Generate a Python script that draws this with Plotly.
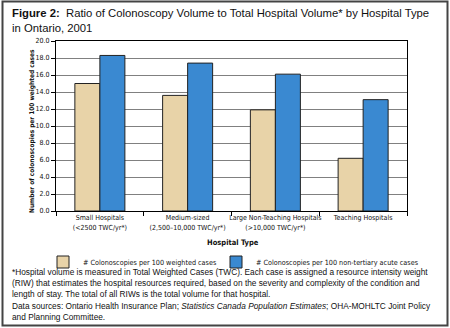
import plotly.graph_objects as go

# Hospital groups and colonoscopy ratios, 2001
hospital_types = [
    "Small Hospitals<br>(<2500 TWC/yr*)",
    "Medium-sized<br>(2,500–10,000 TWC/yr*)",
    "Large Non-Teaching Hospitals<br>(>10,000 TWC/yr*)",
    "Teaching Hospitals",
]
per_100_weighted = [15.0, 13.6, 11.9, 6.2]
per_100_non_tertiary = [18.3, 17.4, 16.1, 13.1]

y_ticks = [0, 2, 4, 6, 8, 10, 12, 14, 16, 18, 20]
y_tick_labels = ["%.1f" % v for v in y_ticks]

W, H = 450, 328
L, R, T, B = 56, 43, 41, 117
PW, PH = W - L - R, H - T - B


def px(x):
    return (x - L) / PW


def py(y):
    return (H - B - y) / PH


COND = "DejaVu Sans Condensed, DejaVu Sans, sans-serif"
BODY = "Liberation Sans, Arial, sans-serif"

fig = go.Figure()
fig.add_trace(go.Bar(
    x=hospital_types, y=per_100_weighted,
    name="# Colonoscopies per 100 weighted cases", legend="legend",
    marker=dict(color="#e8d3a8", line=dict(color="#222222", width=1)),
))
fig.add_trace(go.Bar(
    x=hospital_types, y=per_100_non_tertiary,
    name="# Colonoscopies per 100 non-tertiary acute cases", legend="legend2",
    marker=dict(color="#3a89d1", line=dict(color="#222222", width=1)),
))

legend_style = dict(
    yanchor="middle", xanchor="left",
    font=dict(family=COND, size=7.2, color="#111111"),
    itemwidth=30, bgcolor="rgba(0,0,0,0)", borderwidth=0,
)

fig.update_layout(
    width=W, height=H,
    margin=dict(l=L, r=R, t=T, b=B, autoexpand=False),
    paper_bgcolor="white", plot_bgcolor="white",
    barmode="group", bargap=0.43, bargroupgap=0,
    font=dict(family=COND, size=7, color="#111111"),
    showlegend=True,
    legend=dict(x=px(43), y=py(262), **legend_style),
    legend2=dict(x=px(216), y=py(262), **legend_style),
    xaxis=dict(
        showline=True, linecolor="black", linewidth=1, mirror=True,
        ticks="outside", tickson="boundaries", ticklen=4, tickcolor="black",
        tickangle=0,
        tickfont=dict(family=COND, size=7, color="#111111"),
        showgrid=False,
    ),
    yaxis=dict(
        range=[0, 20], tickvals=y_ticks, ticktext=y_tick_labels,
        showline=True, linecolor="black", linewidth=1, mirror=True,
        ticks="outside", ticklen=4, tickcolor="black",
        tickfont=dict(family=COND, size=7, color="#111111"),
        showgrid=True, gridcolor="#808080", gridwidth=1,
        zeroline=False,
    ),
    yaxis2=dict(
        range=[0, 20], tick0=0, dtick=4, overlaying="y", anchor="x",
        showticklabels=False, showline=False, ticks="",
        showgrid=True, gridcolor="#111111", gridwidth=1, zeroline=False,
        layer="below traces",
    ),
)

annotations = [
    dict(text="<b>Figure 2:</b>  Ratio of Colonoscopy Volume to Total Hospital Volume* by Hospital Type<br>in Ontario, 2001",
         x=px(10), y=py(5), xanchor="left", yanchor="top", align="left",
         font=dict(family=BODY, size=11.3, color="#111111")),
    dict(text="<b>Number of colonoscopies per 100 weighted cases</b>",
         x=px(32), y=py(131), xanchor="center", yanchor="middle", textangle=-90,
         font=dict(family=COND, size=6.5, color="#111111")),
    dict(text="<b>Hospital Type</b>",
         x=px(233), y=py(242), xanchor="center", yanchor="middle",
         font=dict(family=COND, size=7.5, color="#111111")),
    dict(text="*Hospital volume is measured in Total Weighted Cases (TWC). Each case is assigned a resource intensity weight<br>"
              "(RIW) that estimates the hospital resources required, based on the severity and complexity of the condition and<br>"
              "length of stay. The total of all RIWs is the total volume for that hospital.",
         x=px(10), y=py(265), xanchor="left", yanchor="top", align="left",
         font=dict(family=BODY, size=8.3, color="#111111")),
    dict(text="Data sources: Ontario Health Insurance Plan; <i>Statistics Canada Population Estimates</i>; OHA-MOHLTC Joint Policy<br>"
              "and Planning Committee.",
         x=px(10), y=py(299), xanchor="left", yanchor="top", align="left",
         font=dict(family=BODY, size=8.3, color="#111111")),
]
for a in annotations:
    a.update(xref="paper", yref="paper", showarrow=False)
fig.update_layout(annotations=annotations)

# outer frame around the figure
fig.add_shape(type="rect", xref="paper", yref="paper",
              x0=px(2.5), x1=px(447.5), y0=py(325.5), y1=py(1.5),
              line=dict(color="#444444", width=2), layer="above")

fig.write_html("out.html")
